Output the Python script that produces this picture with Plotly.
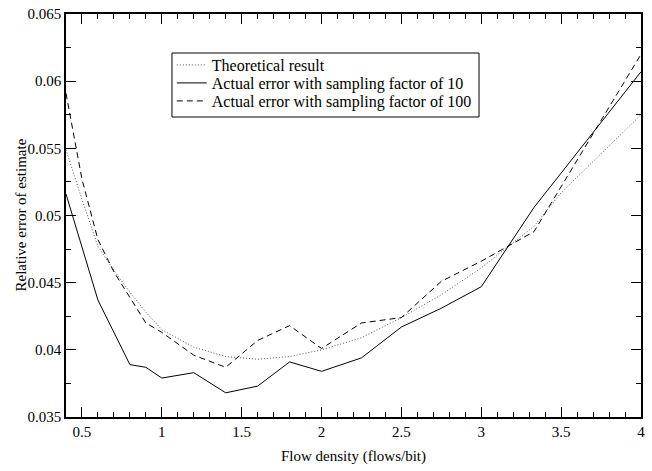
import plotly.graph_objects as go

# Data
x_theory = [0.4, 0.5, 0.6, 0.7, 0.8, 0.9, 1.0, 1.2, 1.4, 1.6, 1.8, 2.0, 2.25, 2.5, 2.75, 3.0, 3.33, 3.5, 3.75, 4.0]
y_theory = [0.0549, 0.0512, 0.0477, 0.0459, 0.0443, 0.0428, 0.0415, 0.0402, 0.0395, 0.0393, 0.0395, 0.0400,
            0.0409, 0.0424, 0.0441, 0.0461, 0.0492, 0.0517, 0.0546, 0.0575]

x_f10 = [0.4, 0.6, 0.8, 0.9, 1.0, 1.2, 1.4, 1.6, 1.8, 2.0, 2.25, 2.5, 2.75, 3.0, 3.33, 4.0]
y_f10 = [0.0516, 0.0437, 0.0389, 0.0387, 0.0379, 0.0383, 0.0368, 0.0373, 0.0391, 0.0384,
         0.0394, 0.0417, 0.0431, 0.0447, 0.0506, 0.0607]

x_f100 = [0.4, 0.5, 0.6, 0.7, 0.8, 0.9, 1.0, 1.2, 1.4, 1.6, 1.8, 2.0, 2.25, 2.5, 2.75, 3.0, 3.33, 4.0]
y_f100 = [0.0591, 0.0527, 0.0482, 0.0458, 0.0439, 0.0420, 0.0413, 0.0396, 0.0387, 0.0407, 0.0418, 0.0401,
          0.0420, 0.0424, 0.0451, 0.0466, 0.0488, 0.0620]

names = ["Theoretical result",
         "Actual error with sampling factor of 10",
         "Actual error with sampling factor of 100"]

x_ticks = [0.5, 1, 1.5, 2, 2.5, 3, 3.5, 4]
y_ticks = [0.035, 0.04, 0.045, 0.05, 0.055, 0.06, 0.065]

x_title = "Flow density (flows/bit)"
y_title = "Relative error of estimate"

FONT = "Liberation Serif"

fig = go.Figure()
fig.add_trace(go.Scatter(x=x_theory, y=y_theory, mode="lines", name=names[0], legend="legend",
                         line=dict(color="#555555", width=1, dash="1px,2px")))
fig.add_trace(go.Scatter(x=x_f10, y=y_f10, mode="lines", name=names[1], legend="legend2",
                         line=dict(color="black", width=1)))
fig.add_trace(go.Scatter(x=x_f100, y=y_f100, mode="lines", name=names[2], legend="legend3",
                         line=dict(color="black", width=1, dash="6px,4px")))

axis_common = dict(showgrid=False, zeroline=False, showline=True, linecolor="black", linewidth=1.5,
                   ticks="inside", ticklen=10, tickwidth=1, tickcolor="black", mirror="allticks",
                   automargin=False,
                   tickfont=dict(family=FONT, size=15, color="black"))

fig.update_xaxes(range=[0.4, 4], tickvals=x_ticks, ticktext=[str(v) for v in x_ticks],
                 minor=dict(dtick=0.1, ticks="inside", ticklen=5, tickcolor="black"),
                 **axis_common)
fig.update_yaxes(range=[0.035, 0.065], tickvals=y_ticks, ticktext=[str(v) for v in y_ticks],
                 minor=dict(dtick=0.0025, ticks="inside", ticklen=5, tickcolor="black"),
                 **axis_common)

fig.add_annotation(text=y_title, textangle=-90, xref="paper", yref="paper",
                   x=-0.080, y=0.5, xanchor="center", yanchor="middle", showarrow=False,
                   font=dict(family=FONT, size=15, color="black"))
fig.add_annotation(text=x_title, xref="paper", yref="paper",
                   x=0.5, y=-0.099, xanchor="center", yanchor="middle", showarrow=False,
                   font=dict(family=FONT, size=15, color="black"))

# Legend frame
fig.add_shape(type="rect", xref="paper", yref="paper", x0=0.1843, x1=0.7183, y0=0.7444, y1=0.9032,
              line=dict(color="black", width=1), fillcolor="white", layer="below")

leg_common = dict(x=0.184, xanchor="left", yanchor="middle", borderwidth=0,
                  bgcolor="rgba(0,0,0,0)", font=dict(family=FONT, size=16, color="black"),
                  itemwidth=30, tracegroupgap=0)

fig.update_layout(
    width=652, height=471,
    margin=dict(l=66, r=11, t=14, b=54),
    paper_bgcolor="white", plot_bgcolor="white",
    showlegend=True,
    legend=dict(y=0.8734, **leg_common),
    legend2=dict(y=0.8288, **leg_common),
    legend3=dict(y=0.7841, **leg_common),
)

fig.write_html("out.html", config={"displayModeBar": False},
               post_script="document.body.style.margin='0';document.body.style.overflow='hidden';")
